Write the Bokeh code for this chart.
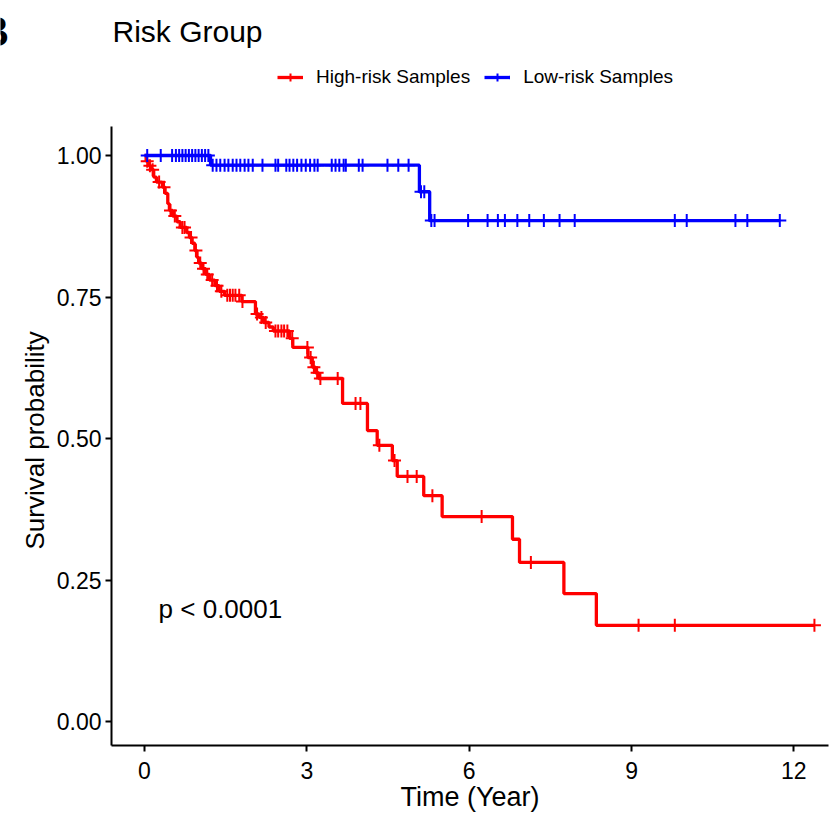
import numpy as np
from bokeh.plotting import figure
from bokeh.layouts import row
from bokeh.models import Label, Legend, LegendItem, Range1d, FixedTicker, NumeralTickFormatter, Title
from bokeh.embed import file_html
from bokeh.resources import INLINE

# ---------------- data ----------------
high_times = [0, 0.03, 0.08, 0.12, 0.17, 0.22, 0.33, 0.38, 0.43, 0.46, 0.52,
              0.60, 0.66, 0.78, 0.83, 0.88, 0.93, 0.97, 1.00, 1.06, 1.13,
              1.20, 1.30, 1.38, 1.48, 1.80, 2.05, 2.12, 2.20, 2.30, 2.38,
              2.68, 2.74, 3.02, 3.10, 3.16, 3.22, 3.66, 4.12, 4.30, 4.58,
              4.67, 5.16, 5.50, 6.80, 6.93, 7.75, 8.35]
high_surv = [1.0, 0.990, 0.982, 0.975, 0.962, 0.953, 0.944, 0.933, 0.915, 0.903, 0.893,
             0.883, 0.873, 0.864, 0.855, 0.845, 0.832, 0.820, 0.810, 0.800, 0.790,
             0.780, 0.770, 0.760, 0.753, 0.742, 0.720, 0.714, 0.705, 0.697, 0.690,
             0.677, 0.661, 0.643, 0.626, 0.616, 0.606, 0.562, 0.514, 0.488, 0.461,
             0.433, 0.399, 0.362, 0.322, 0.281, 0.226, 0.170]
high_end = 12.38
high_censor = [0.05, 0.10, 0.15, 0.27, 0.36, 0.48, 0.56, 0.70, 0.74, 0.86, 0.95,
               1.03, 1.09, 1.16, 1.25, 1.34, 1.42, 1.53, 1.58, 1.63, 1.68, 1.75,
               1.81, 2.08, 2.16, 2.24, 2.42, 2.47, 2.53, 2.58, 2.64, 2.73, 3.01,
               3.07, 3.13, 3.19, 3.25, 3.57, 3.90, 3.99, 4.34, 4.62, 4.86, 5.03,
               5.32, 6.23, 7.14, 9.13, 9.80, 12.38]

low_times = [0, 1.22, 5.08, 5.27]
low_surv = [1.0, 0.983, 0.936, 0.885]
low_end = 11.74
low_censor = [0.05, 0.30, 0.51, 0.58, 0.64, 0.70, 0.76, 0.82, 0.88, 0.94, 1.00,
              1.06, 1.12, 1.18, 1.26, 1.33, 1.40, 1.48, 1.55, 1.63, 1.70, 1.77,
              1.85, 1.92, 2.00, 2.18, 2.42, 2.47, 2.62, 2.68, 2.75, 2.82, 2.90,
              2.98, 3.06, 3.14, 3.20, 3.46, 3.53, 3.60, 3.68, 3.72, 3.96, 4.03,
              4.49, 4.69, 4.88, 5.11, 5.17, 5.30, 5.36, 5.98, 6.34, 6.53, 6.66,
              6.89, 7.11, 7.38, 7.67, 7.95, 9.80, 10.02, 10.92, 11.14, 11.74]

group_labels = ["High-risk Samples", "Low-risk Samples"]
group_colors = ["#FF0000", "#0000FF"]
x_ticks = [0, 3, 6, 9, 12]
y_ticks = [0, 0.25, 0.5, 0.75, 1.0]
y_axis_extent = (-0.0424, 1.0512)
panel_letter = "B"
title_text = "Risk Group"
pval_text = "p < 0.0001"
x_title = "Time (Year)"
y_title = "Survival probability"

FONT = "Liberation Sans"
H = 814
BOTTOM = 69
STRIP_W = 9


def step_xy(times, surv, end):
    return list(times) + [end], list(surv) + [surv[-1]]


def censor_y(times, surv, cens):
    idx = np.searchsorted(np.array(times), np.array(cens), side="right") - 1
    return [surv[i] for i in idx]


# ---------------- narrow strip holding the (cropped) panel letter ----------------
strip = figure(width=STRIP_W, height=H, output_backend="svg", toolbar_location=None,
               x_range=Range1d(0, STRIP_W), y_range=Range1d(H - BOTTOM, 0),
               x_axis_type=None, y_axis_type=None, min_border=0,
               min_border_bottom=BOTTOM)
strip.outline_line_color = None
strip.grid.visible = False
strip.add_layout(Label(x=8.5, y=31, text=panel_letter, text_align="right",
                       text_baseline="alphabetic", text_font=FONT,
                       text_font_size="42px", text_font_style="bold",
                       text_color="black"))

# ---------------- main plot ----------------
# The frame reaches the top of the canvas so the title and legend are not
# clipped; the y axis line itself is bounded to the data area.
p = figure(width=831 - STRIP_W, height=H, output_backend="svg", toolbar_location=None,
           x_range=Range1d(-0.61, 12.64), y_range=Range1d(-0.0424, 1.2739),
           min_border_left=111 - STRIP_W, min_border_right=3, min_border_top=0,
           min_border_bottom=BOTTOM)
p.outline_line_color = None
p.xgrid.visible = False
p.ygrid.visible = False

items = []
for times, surv, end, cens, lab, col in [
        (high_times, high_surv, high_end, high_censor, group_labels[0], group_colors[0]),
        (low_times, low_surv, low_end, low_censor, group_labels[1], group_colors[1])]:
    sx, sy = step_xy(times, surv, end)
    r1 = p.step(sx, sy, mode="after", line_color=col, line_width=3.3)
    r2 = p.scatter(cens, censor_y(times, surv, cens), marker="cross", size=13,
                   line_color=col, line_width=2)
    items.append(LegendItem(label=lab, renderers=[r1, r2]))

legend = Legend(items=items, location=(166, 657), orientation="horizontal",
                label_text_font=FONT, label_text_font_size="19px",
                label_text_color="black",
                glyph_width=26, glyph_height=20, label_standoff=13, spacing=14,
                padding=0, margin=0, border_line_alpha=0, background_fill_alpha=0)
p.add_layout(legend, "center")

for ax in (p.xaxis, p.yaxis):
    ax.axis_line_width = 2
    ax.axis_line_color = "black"
    ax.major_tick_line_width = 2
    ax.major_tick_line_color = "black"
    ax.major_tick_out = 6
    ax.major_tick_in = 0
    ax.minor_tick_line_color = None
    ax.major_label_text_font = FONT
    ax.major_label_text_font_size = "23px"
    ax.major_label_text_color = "black"

p.xaxis.ticker = FixedTicker(ticks=x_ticks)
p.yaxis.ticker = FixedTicker(ticks=y_ticks)
p.yaxis.bounds = y_axis_extent
p.yaxis.formatter = NumeralTickFormatter(format="0.00")
p.xaxis.major_label_standoff = 10
p.yaxis.major_label_standoff = 4
p.xaxis.axis_label = x_title
p.xaxis.axis_label_standoff = 0
p.xaxis.axis_label_text_font = FONT
p.xaxis.axis_label_text_font_size = "27px"
p.xaxis.axis_label_text_font_style = "normal"
p.xaxis.axis_label_text_color = "black"

# y axis title, centred on the bounded axis rather than on the full frame
p.add_layout(Title(text=y_title, align="left", offset=196, standoff=8,
                   text_font=FONT, text_font_size="26px", text_font_style="normal",
                   text_color="black"), "left")

p.add_layout(Label(x=-0.5915, y=1.2191, text=title_text, text_align="left",
                   text_baseline="alphabetic", text_font=FONT, text_font_size="30px",
                   text_color="black"))
p.add_layout(Label(x=0.26, y=0.198, text=pval_text, text_align="left",
                   text_baseline="middle", text_font=FONT, text_font_size="26px",
                   text_color="black"))

layout = row(strip, p, spacing=0)
open("out.html", "w").write(file_html(layout, INLINE))
